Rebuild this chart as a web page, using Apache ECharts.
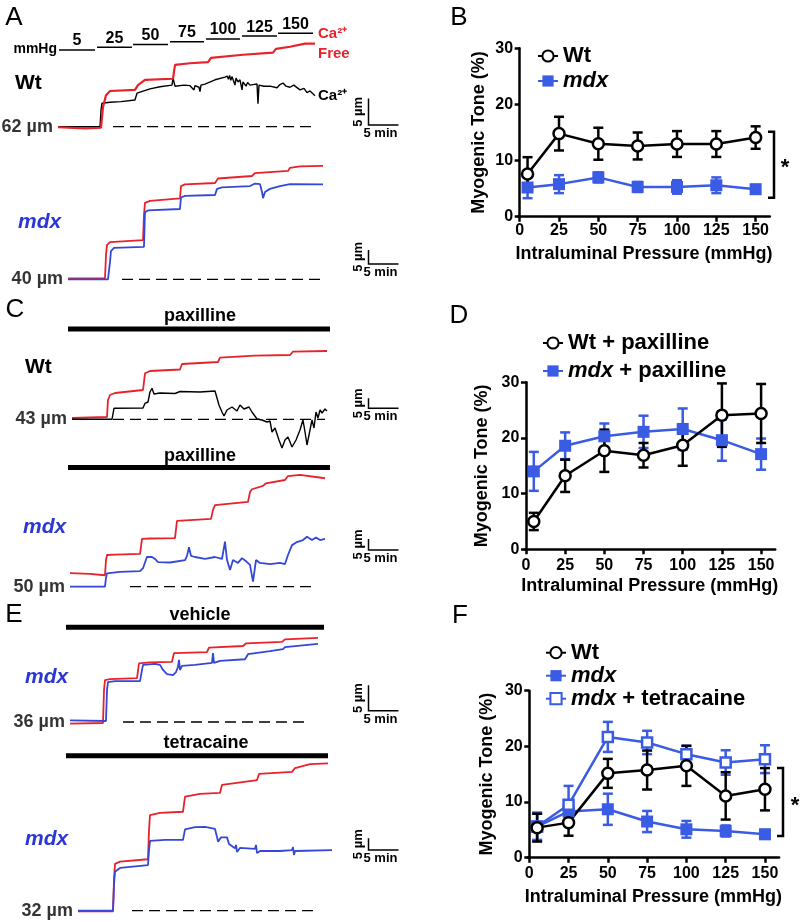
<!DOCTYPE html>
<html><head><meta charset="utf-8">
<script src="https://cdn.jsdelivr.net/npm/echarts@6/dist/echarts.min.js"></script>
<style>html,body{margin:0;padding:0;background:#fff}#c{width:800px;height:922px}</style>
</head><body><div id="c"></div>
<script>
// ================= DATA =================
// Right panels: myogenic tone (%) vs intraluminal pressure (mmHg), mean and SEM
const pressures = [5, 25, 50, 75, 100, 125, 150];
const xTicks = [0, 25, 50, 75, 100, 125, 150];
const B_wt = [7.6, 14.8, 13.0, 12.6, 12.95, 12.95, 14.1];
const B_wtErr = [3.0, 3.0, 2.85, 2.4, 2.3, 2.3, 2.0];
const B_mdx = [5.2, 5.8, 7.0, 5.3, 5.3, 5.6, 4.9];
const B_mdxErr = [1.9, 1.6, 0.9, 0.9, 1.2, 1.4, 0.7];
const D_wt = [5.0, 13.2, 17.7, 16.9, 18.7, 24.1, 24.4];
const D_wtErr = [1.55, 2.9, 3.8, 2.2, 3.7, 5.7, 5.3];
const D_mdx = [14.0, 18.6, 20.3, 21.1, 21.6, 19.6, 17.1];
const D_mdxErr = [3.5, 2.4, 2.3, 2.9, 3.7, 3.7, 2.8];
const F_wt = [5.4, 6.3, 15.15, 15.75, 16.5, 11.1, 12.3];
const F_wtErr = [2.5, 2.35, 2.6, 3.5, 3.6, 4.25, 3.8];
const F_mdx = [5.6, 8.3, 8.7, 6.5, 5.1, 4.8, 4.2];
const F_mdxErr = [2.5, 1.0, 2.8, 1.9, 1.5, 1.0, 0.8];
const F_tet = [5.6, 9.5, 21.7, 20.7, 18.6, 17.1, 17.7];
const F_tetErr = [2.4, 3.4, 2.7, 2.1, 1.5, 2.2, 2.5];

// Pressure protocol (panel A): mmHg and step times (min)
const pressureSteps = [5, 25, 50, 75, 100, 125, 150];
const stepStart = [0.17, 6.5, 12.5, 18.67, 24.67, 30.67, 36.67];
const stepEnd = [6.17, 12.33, 18.33, 24.33, 30.33, 36.5, 42.5];

// Baseline diameters (µm)
const D0 = { A_wt: 62, A_mdx: 40, C_wt: 43, C_mdx: 50, E_veh: 36, E_tet: 32 };

// Diameter traces: [time (min), diameter (µm)]
const A_wt_ca = [[0,62],[7,62],[7.17,65.1],[7.33,66.4],[8.67,66.6],[10.5,66.7],[12.83,67.0],[13.17,68.3],[15.33,69.1],[17,69.5],[19,69.8],[19.17,71.1],[19.5,69.6],[21,69.8],[22,69.7],[22.67,68.9],[22.83,69.7],[23.5,69.4],[23.67,68.6],[23.83,69.8],[24.5,70.0],[26.17,70.8],[27.83,71.3],[28.2,71.5],[28.4,70.9],[28.6,71.6],[28.8,70.7],[29,71.4],[29.5,69.8],[29.67,71.1],[30,70.4],[30.33,70.8],[30.67,68.9],[30.83,70.4],[31.33,69.6],[31.6,70.3],[32,69.8],[32.5,69.9],[33.17,70.0],[33.33,66.3],[33.5,69.8],[34.3,69.6],[35.33,69.6],[36.5,69.3],[37,69.9],[37.5,70.2],[38,69.6],[38.67,69.4],[39.3,69.8],[40.33,68.9],[41,69.2],[41.5,68.4],[42,68.7],[42.83,67.8]];
const A_wt_free = [[0,61.9],[4.5,61.7],[7.17,61.8],[7.5,65.7],[8,67.9],[8.67,68.7],[12.83,68.9],[13.33,69.8],[14.5,70.8],[19.17,71.0],[19.5,73.6],[22,73.9],[25,74.1],[25.5,74.9],[30.83,75.5],[35.83,75.9],[36.33,76.6],[38.67,77.0],[41.17,77.6],[42.83,77.6]];
const A_mdx_ca = [[1.67,40],[8.33,40],[8.67,46.2],[8.83,50.1],[9.33,51.2],[14.33,51.6],[14.5,64.0],[15,64.6],[20.33,65.1],[20.5,69.2],[21.17,69.8],[26.17,70.1],[26.5,72.3],[27.33,72.8],[32,73.3],[32.83,74.2],[33.67,74.0],[34,71.2],[34.17,69.0],[34.5,71.2],[35.33,72.3],[37,73.3],[38.67,74.0],[44.17,73.9]];
const A_mdx_free = [[1.67,40.3],[7.83,40.3],[8,48.7],[8.17,52.3],[8.67,53.3],[14.17,54.0],[14.33,63.0],[14.5,67.3],[15.33,68.0],[20.33,68.9],[20.5,73.3],[21.17,73.9],[26.17,74.4],[26.67,76.0],[32.33,76.9],[32.83,77.9],[38.33,78.7],[38.67,79.8],[40.33,80.3],[44.17,80.5]];
const C_wt_ca = [[2.33,43],[9,43],[9.33,48.5],[14.17,48.65],[14.5,51],[15,51.65],[15.33,56.65],[15.67,58.5],[16,55.65],[17,56.15],[19.5,55.9],[20.33,56.9],[23.67,56.65],[26.17,57.15],[26.5,53.65],[26.83,50.15],[27.33,46.65],[27.67,44.65],[28.17,47.65],[29,49.15],[29.83,47.15],[30.33,50.15],[31,48.15],[31.83,49.15],[32.33,46.65],[33.17,43.15],[34,42.65],[34.83,41.65],[35.33,42.15],[35.67,36.65],[36.17,38.65],[36.83,32.65],[37.33,28.65],[37.83,32.65],[38.33,34.15],[39,29.15],[39.67,32.65],[40.33,37.65],[40.83,42.65],[41.17,36.65],[41.5,30.15],[42,37.65],[42.33,42.65],[42.67,38.65],[43,46.65],[43.33,43.65],[43.67,47.65],[44,46.15],[44.5,48.15],[44.83,47.15]];
const C_wt_free = [[2.33,43.65],[8.17,44.15],[8.33,52.65],[8.67,55.15],[9.5,56.15],[14.17,57.65],[14.5,66.0],[15.33,67.15],[20.33,67.9],[20.67,70.65],[26.67,71.65],[27,73.8],[32.83,74.8],[38.67,75.15],[39.17,76.8],[44.83,77.15]];
const C_mdx_ca = [[2,50],[7.83,50],[8,54.0],[8.17,56.1],[10.33,56.7],[13.67,57.1],[14.17,58.4],[14.5,59.0],[14.83,63.6],[15.67,63.5],[16.17,62.6],[16.67,61.2],[18.67,61.0],[21.17,62.1],[21.5,64.0],[21.83,67.9],[22.17,64.0],[22.83,63.5],[24.5,62.6],[26.17,63.5],[27.33,62.6],[27.83,70.5],[28.17,62.1],[28.67,57.6],[29.17,62.1],[30,60.8],[30.67,63.0],[31.5,61.2],[32,59.9],[32.5,52.3],[33,62.1],[33.67,60.8],[35.33,60.3],[37,60.8],[37.83,60.3],[38.33,64.4],[39,68.9],[39.83,70.3],[40.83,71.2],[41.5,72.7],[42.33,71.2],[43,72.4],[43.67,71.2],[44.5,71.7]];
const C_mdx_free = [[2,56.2],[5.33,55.8],[7.83,55.2],[8,62.1],[8.17,64.4],[9.5,64.6],[13.67,64.9],[14,71.7],[15.33,71.9],[19.5,72.1],[19.83,79.9],[22,80.3],[25.5,80.8],[25.83,84.9],[26.17,87.1],[31.67,88.6],[32,93.0],[32.33,94.3],[34.17,95.8],[34.67,97.0],[37.83,98.5],[38.33,100.3],[40.33,100.8],[44.5,99.3]];
const E_veh_ca = [[2,36.3],[8,36.2],[8.17,42.3],[8.33,43.8],[9.5,44.0],[13.67,44.0],[14,46.2],[14.17,47.2],[16.17,47.4],[17,47.2],[17.5,46.2],[18.17,45.4],[19.17,45.2],[19.67,45.8],[20,46.8],[20.17,48.2],[20.33,46.2],[20.67,47.0],[22.83,47.2],[25.67,47.6],[25.83,49.5],[26,47.6],[27,48.0],[31.17,48.3],[31.67,49.3],[35.33,49.9],[37.5,50.3],[37.83,50.7],[43.33,51.3]];
const E_veh_free = [[2,35.7],[7.5,35.8],[7.67,42.3],[7.83,44.2],[8.67,44.4],[13.17,44.6],[13.5,47.5],[15.33,47.7],[19,47.8],[19.33,49.5],[24.83,49.7],[25.17,50.6],[30.83,50.9],[31.33,51.4],[37.33,51.7],[37.83,52.2],[43.33,52.5]];
const E_tet_ca = [[3.33,32],[9.17,32],[9.33,42.9],[9.5,48.6],[10.33,50.2],[15,51.4],[15.17,57.8],[15.33,61.7],[17.83,62.1],[20.83,62.1],[21.17,66.6],[22.83,67.6],[24.5,67.7],[26.17,66.8],[26.5,63.4],[26.67,61.4],[27.17,63.2],[28.17,63.2],[28.5,60.4],[29.5,58.6],[29.67,60.0],[29.83,57.0],[30.33,58.7],[32.83,58.3],[33,60.0],[33.17,56.5],[33.67,57.4],[37,57.4],[39,57.8],[39.17,59.1],[39.33,55.7],[39.5,57.4],[45.67,57.8]];
const E_tet_free = [[3.33,31.7],[9.17,31.7],[9.33,45.1],[9.5,51.9],[10.33,52.9],[15,53.9],[15.17,66.3],[15.33,72.7],[17,73.6],[20.83,74.1],[21.17,80.5],[23.67,81.7],[27,82.1],[27.33,85.5],[27.5,86.2],[33.17,87.6],[33.5,90.2],[39,91.1],[39.5,92.7],[39.83,93.3],[42,94.4],[45,94.7]];

// ================= STYLE / LAYOUT =================
const FONT = '"Liberation Sans", Arial, Helvetica, sans-serif';
const BLUE = '#3a5be3';
const TRACE_BLUE = '#3448d8';
const TEXT_BLUE = '#2a37d4';
const RED = '#e8222b';
const SB_UM = 5, SB_MIN = 5;   // scale bars

// trace panel layout: baseline pixel, px per µm, visible range, dashed line span, scale bar bottom
const LP = {
  A_wt:  {base:126.7, k:5.33, dMin:58, dMax:81,  dash:[9.17,43],    start:0,    sb:62.3},
  A_mdx: {base:279.3, k:2.8,  dMin:35, dMax:85,  dash:[10.67,44.5], start:1.67, sb:45.5},
  C_wt:  {base:419.3, k:2.0,  dMin:25, dMax:85,  dash:[9.17,44.5],  start:2.33, sb:48.5},
  C_mdx: {base:586.7, k:2.2,  dMin:40, dMax:110, dash:[12,42.33],   start:2,    sb:66.7},
  E_veh: {base:722,   k:5.1,  dMin:33, dMax:55,  dash:[10.83,41.17],start:2,    sb:38.2},
  E_tet: {base:910.7, k:2.35, dMin:28, dMax:105, dash:[12.33,42.5], start:3.33, sb:57.8}
};
const PANELS = ['A_wt','A_mdx','C_wt','C_mdx','E_veh','E_tet'];
const TRACES = {
  A_wt:  {ca:A_wt_ca, free:A_wt_free, color:'#000'},
  A_mdx: {ca:A_mdx_ca, free:A_mdx_free, color:TRACE_BLUE},
  C_wt:  {ca:C_wt_ca, free:C_wt_free, color:'#000'},
  C_mdx: {ca:C_mdx_ca, free:C_mdx_free, color:TRACE_BLUE},
  E_veh: {ca:E_veh_ca, free:E_veh_free, color:TRACE_BLUE},
  E_tet: {ca:E_tet_ca, free:E_tet_free, color:TRACE_BLUE}
};

const grids = [], xAxes = [], yAxes = [], series = [];

PANELS.forEach((key, gi) => {
  const L = LP[key], d0 = D0[key];
  grids.push({left:58, width:342, top: L.base - (L.dMax - d0) * L.k, height:(L.dMax - L.dMin) * L.k});
  xAxes.push({gridIndex:gi, type:'value', min:0, max:57, show:false});
  yAxes.push({gridIndex:gi, type:'value', min:L.dMin, max:L.dMax, show:false});
  const T = TRACES[key];
  // dashed baseline
  series.push({type:'line', xAxisIndex:gi, yAxisIndex:gi, symbol:'none', silent:true,
    data:[[L.dash[0], d0],[L.dash[1], d0]], lineStyle:{color:'#000', width:1.3, type:[11,6]}});
  const freeS = {type:'line', xAxisIndex:gi, yAxisIndex:gi, symbol:'none', silent:true, data:T.free,
    lineStyle:{color:RED, width: key==='A_wt'?2.2:1.8}, z:3};
  const caS = {type:'line', xAxisIndex:gi, yAxisIndex:gi, symbol:'none', silent:true, data:T.ca,
    lineStyle:{color:T.color, width: T.color==='#000'?1.4:1.8}, z:3};
  if (key === 'A_wt') {
    freeS.endLabel = {show:true, formatter:'Ca²⁺\nFree', distance:3, color:RED, fontSize:15,
      fontWeight:'bold', lineHeight:20, fontFamily:FONT};
    caS.endLabel = {show:true, formatter:'Ca²⁺', distance:3, color:'#000', fontSize:15,
      fontWeight:'bold', fontFamily:FONT};
    series.push(caS, freeS);
  } else {
    series.push(freeS, caS);
  }
  // baseline label
  series.push({type:'scatter', xAxisIndex:gi, yAxisIndex:gi, symbolSize:0, silent:true,
    data:[[L.start, d0]],
    label:{show:true, position:'left', distance:5, formatter: d0 + ' µm', color:'#000',
      fontSize:18, fontWeight:'bold', fontFamily:FONT}});
  // scale bar
  series.push({type:'custom', xAxisIndex:gi, yAxisIndex:gi, silent:true, z:5,
    data:[[51.75, L.sb]],
    renderItem(p, api) {
      const o = api.coord([api.value(0), api.value(1)]);
      const tp = api.coord([api.value(0), api.value(1) + SB_UM]);
      const rt = api.coord([api.value(0) + SB_MIN, api.value(1)]);
      return {type:'group', children:[
        {type:'polyline', shape:{points:[tp, o, rt]}, style:{stroke:'#000', lineWidth:1.5, fill:null}},
        {type:'text', x:o[0]-10.5, y:(tp[1]+o[1])/2, rotation:Math.PI/2,
          style:{text:SB_UM + ' µm', font:'bold 13px ' + FONT, fill:'#000', align:'center', verticalAlign:'middle'}},
        {type:'text', x:o[0]-5, y:o[1]+2,
          style:{text:SB_MIN + ' min', font:'bold 13px ' + FONT, fill:'#000', align:'left', verticalAlign:'top'}}
      ]};
    }});
});

// pressure protocol grid (index 6)
grids.push({left:58, width:342, top:30.54, height:22.24});
xAxes.push({gridIndex:6, type:'value', min:0, max:57, show:false});
yAxes.push({gridIndex:6, type:'value', min:-1, max:7, show:false});
series.push({type:'custom', xAxisIndex:6, yAxisIndex:6, silent:true,
  data: pressureSteps.map((p, i) => [stepStart[i], stepEnd[i], i, p]),
  renderItem(pr, api) {
    const a = api.coord([api.value(0), api.value(2)]);
    const b = api.coord([api.value(1), api.value(2)]);
    return {type:'group', children:[
      {type:'line', shape:{x1:a[0], y1:a[1], x2:b[0], y2:b[1]}, style:{stroke:'#000', lineWidth:1.5}},
      {type:'text', x:(a[0]+b[0])/2, y:a[1]-1,
        style:{text:String(api.value(3)), font:'bold 16px ' + FONT, fill:'#000', align:'center', verticalAlign:'bottom'}}
    ]};
  }});

// ---------- right panels ----------
const RG = [
  {left:518.1, top:48.3, width:251.7, height:168.4},
  {left:524.4, top:382.3, width:250.8, height:167},
  {left:527.7, top:690.7, width:251.4, height:167}
];
const X_NAME_GAP = [28, 28, 30], Y_NAME_GAP = [30, 33, 32], X_LABEL_MARGIN = [6, 8, 8];
RG.forEach((g, j) => {
  const gi = 7 + j;
  grids.push(g);
  xAxes.push({gridIndex:gi, type:'value', min:-1, max:159,
    axisLine:{show:true, lineStyle:{color:'#000', width:2.5}},
    axisTick:{show:true, customValues:xTicks, length:5, lineStyle:{color:'#000', width:2.5}},
    axisLabel:{customValues:xTicks, color:'#000', fontSize:16, fontWeight:'bold', fontFamily:FONT, margin:X_LABEL_MARGIN[j]},
    splitLine:{show:false},
    name:'Intraluminal Pressure (mmHg)', nameLocation:'middle', nameGap:X_NAME_GAP[j],
    nameTextStyle:{color:'#000', fontSize:18, fontWeight:'bold', fontFamily:FONT}});
  yAxes.push({gridIndex:gi, type:'value', min:0, max:30, interval:10,
    axisLine:{show:true, lineStyle:{color:'#000', width:2.5}},
    axisTick:{show:true, length:5, lineStyle:{color:'#000', width:2.5}},
    axisLabel:{color:'#000', fontSize:16, fontWeight:'bold', fontFamily:FONT, margin:5},
    splitLine:{show:false},
    name:'Myogenic Tone (%)', nameLocation:'middle', nameGap:Y_NAME_GAP[j],
    nameTextStyle:{color:'#000', fontSize:18, fontWeight:'bold', fontFamily:FONT}});
});

function errSeries(gi, vals, errs, color) {
  return {type:'custom', xAxisIndex:gi, yAxisIndex:gi, silent:true,
    data: pressures.map((p, i) => [p, vals[i] - errs[i], vals[i] + errs[i]]),
    renderItem(params, api) {
      const lo = api.coord([api.value(0), api.value(1)]);
      const hi = api.coord([api.value(0), api.value(2)]);
      const w = 5, st = {stroke:color, lineWidth:2.5};
      return {type:'group', children:[
        {type:'line', shape:{x1:lo[0], y1:lo[1], x2:hi[0], y2:hi[1]}, style:st},
        {type:'line', shape:{x1:lo[0]-w, y1:lo[1], x2:lo[0]+w, y2:lo[1]}, style:st},
        {type:'line', shape:{x1:hi[0]-w, y1:hi[1], x2:hi[0]+w, y2:hi[1]}, style:st}
      ]};
    }};
}
function wtSeries(name, gi, vals) {
  return {name, type:'line', xAxisIndex:gi, yAxisIndex:gi, silent:true,
    data: pressures.map((p, i) => [p, vals[i]]),
    symbol:'circle', symbolSize:11,
    itemStyle:{color:'#fff', borderColor:'#000', borderWidth:2.5},
    lineStyle:{color:'#000', width:2.5}};
}
function mdxSeries(name, gi, vals) {
  return {name, type:'line', xAxisIndex:gi, yAxisIndex:gi, silent:true,
    data: pressures.map((p, i) => [p, vals[i]]),
    symbol:'rect', symbolSize:12,
    itemStyle:{color:BLUE, borderColor:BLUE, borderWidth:0},
    lineStyle:{color:BLUE, width:2.5}};
}
function tetSeries(name, gi, vals) {
  return {name, type:'line', xAxisIndex:gi, yAxisIndex:gi, silent:true,
    data: pressures.map((p, i) => [p, vals[i]]),
    symbol:'rect', symbolSize:10,
    itemStyle:{color:'#fff', borderColor:BLUE, borderWidth:2.5},
    lineStyle:{color:BLUE, width:2.5}};
}

// B
series.push(errSeries(7, B_mdx, B_mdxErr, BLUE), mdxSeries('B_mdx', 7, B_mdx),
            errSeries(7, B_wt, B_wtErr, '#000'), wtSeries('B_wt', 7, B_wt));
// D
series.push(errSeries(8, D_mdx, D_mdxErr, BLUE), mdxSeries('D_mdx', 8, D_mdx),
            errSeries(8, D_wt, D_wtErr, '#000'), wtSeries('D_wt', 8, D_wt));
// F
series.push(errSeries(9, F_mdx, F_mdxErr, BLUE), mdxSeries('F_mdx', 9, F_mdx),
            errSeries(9, F_tet, F_tetErr, BLUE), tetSeries('F_tet', 9, F_tet),
            errSeries(9, F_wt, F_wtErr, '#000'), wtSeries('F_wt', 9, F_wt));

const LEG_TEXT = {
  B_wt:'Wt', B_mdx:'{i|mdx}', D_wt:'Wt + paxilline', D_mdx:'{i|mdx} + paxilline',
  F_wt:'Wt', F_mdx:'{i|mdx}', F_tet:'{i|mdx} + tetracaine'
};
function legend(names, left, top, lineHeight, gap) {
  return {data:names, left, top, orient:'vertical', itemWidth:20, itemHeight:14, itemGap:gap,
    selectedMode:false, formatter: n => LEG_TEXT[n],
    textStyle:{color:'#000', fontSize:22, fontWeight:'bold', fontFamily:FONT, lineHeight,
      rich:{i:{fontStyle:'italic', fontWeight:'bold', fontSize:22, fontFamily:FONT, color:'#000'}}}};
}

function txt(x, y, text, size, opts) {
  return Object.assign({type:'text', x, y, silent:true,
    style:Object.assign({text, font:'bold ' + size + 'px ' + FONT, fill:'#000', align:'left', verticalAlign:'middle'}, opts || {})});
}
function letter(x, y, t) {
  return {type:'text', x, y, silent:true, style:{text:t, font:'26px ' + FONT, fill:'#000', align:'center', verticalAlign:'middle'}};
}
function bar(x1, x2, y) {
  return {type:'rect', silent:true, shape:{x:x1, y:y-2.5, width:x2-x1, height:5}, style:{fill:'#000'}};
}
const italicBlue = {font:'italic bold 21px ' + FONT, fill:TEXT_BLUE};

const graphic = [
  letter(14, 18, 'A'), letter(459, 18, 'B'), letter(15, 310, 'C'),
  letter(459, 316, 'D'), letter(14, 615, 'E'), letter(460, 616, 'F'),
  txt(57, 49.3, 'mmHg', 14, {align:'right'}),
  txt(15, 83, 'Wt', 21),
  txt(18, 222, 'mdx', 21, italicBlue),
  txt(25, 367, 'Wt', 21),
  txt(23, 527, 'mdx', 21, italicBlue),
  txt(25, 677, 'mdx', 21, italicBlue),
  txt(25, 839, 'mdx', 21, italicBlue),
  bar(68, 330, 329), txt(200, 316.5, 'paxilline', 18, {align:'center'}),
  bar(68, 330, 467.5), txt(200, 456.5, 'paxilline', 18, {align:'center'}),
  bar(66, 324, 627.3), txt(200, 615, 'vehicle', 18, {align:'center'}),
  bar(66, 328, 755.7), txt(206, 743.3, 'tetracaine', 18, {align:'center'}),
  {type:'polyline', silent:true, shape:{points:[[768,131.7],[774,131.7],[774,197.7],[768,197.7]]},
    style:{stroke:'#000', lineWidth:2.5, fill:null}},
  txt(785, 168, '*', 22, {align:'center'}),
  {type:'polyline', silent:true, shape:{points:[[777,768],[783,768],[783,836],[777,836]]},
    style:{stroke:'#000', lineWidth:2.5, fill:null}},
  txt(795, 806, '*', 22, {align:'center'})
];

const option = {
  animation:false, backgroundColor:'#fff',
  textStyle:{fontFamily:FONT},
  grid:grids, xAxis:xAxes, yAxis:yAxes, series,
  legend:[
    legend(['B_wt','B_mdx'], 532, 39, 24, 1),
    legend(['D_wt','D_mdx'], 537, 326, 24, 4),
    legend(['F_wt','F_mdx','F_tet'], 540, 636.7, 22, 1)
  ],
  graphic
};
const chart = echarts.init(document.getElementById('c'), null, {renderer:'canvas'});
chart.setOption(option);
</script>
</body></html>
